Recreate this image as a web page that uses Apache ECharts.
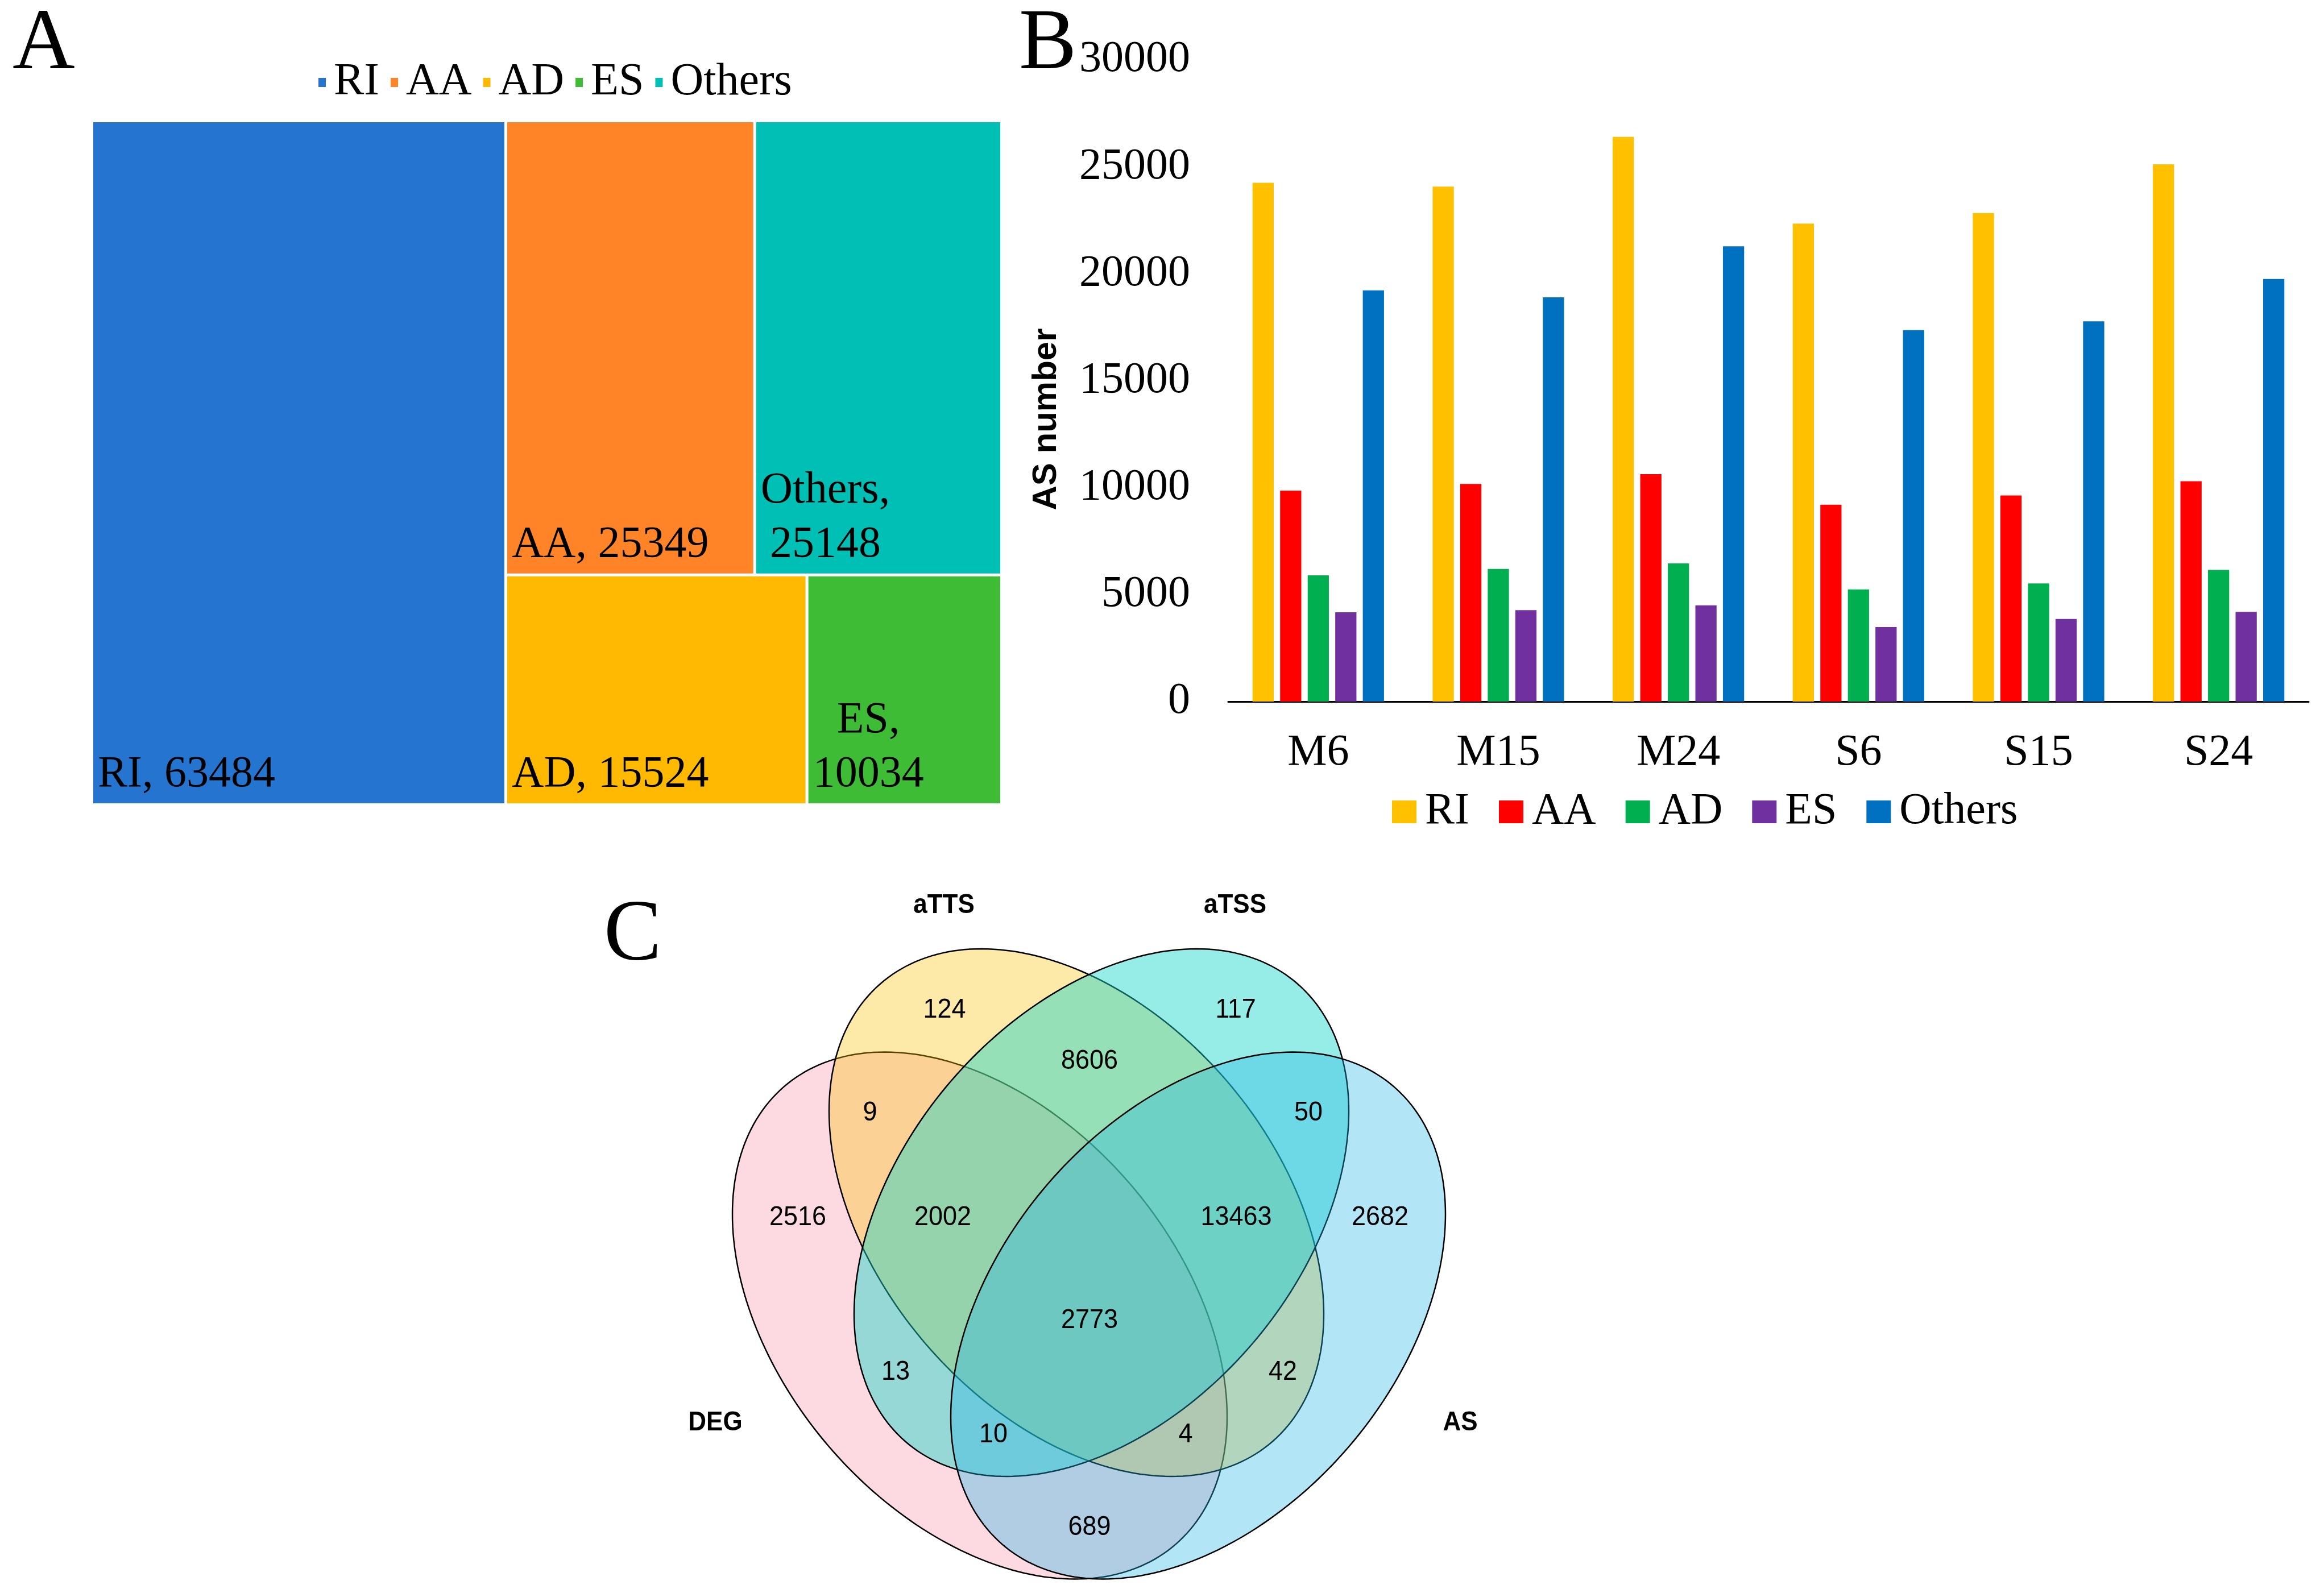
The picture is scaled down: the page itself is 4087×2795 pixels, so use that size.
<!DOCTYPE html>
<html><head><meta charset="utf-8">
<script src="https://cdn.jsdelivr.net/npm/echarts@6/dist/echarts.min.js"></script>
<style>html,body{margin:0;padding:0;background:#fff;}#c{width:4087px;height:2795px;}</style>
</head><body><div id="c"></div>
<script>
// ---------- Panel A: treemap of AS event types ----------
const asTypes = ['RI', 'AA', 'AD', 'ES', 'Others'];
const asTotals = [63484, 25349, 15524, 10034, 25148];
const treemapColors = ['#2574D0', '#FF8427', '#FFB900', '#3EBC35', '#00C0B5'];
const wrapLabelTypes = ['Others', 'ES'];

// ---------- Panel B: AS number per sample ----------
const samples = ['M6', 'M15', 'M24', 'S6', 'S15', 'S24'];
const riCounts = [24250, 24070, 26390, 22340, 22830, 25110];
const aaCounts = [9860, 10170, 10630, 9200, 9630, 10300];
const adCounts = [5900, 6200, 6460, 5240, 5520, 6150];
const esCounts = [4170, 4270, 4500, 3480, 3860, 4190];
const othersCounts = [19220, 18890, 21280, 17360, 17770, 19750];
const barColors = ['#FFC000', '#FF0000', '#00B050', '#7030A0', '#0070C0'];

// ---------- Panel C: Venn diagram ----------
const vennSets = ['DEG', 'aTTS', 'aTSS', 'AS'];
const vennRegions = ['DEG', 'aTTS', 'aTSS', 'AS', 'DEG&aTTS', 'aTTS&aTSS', 'aTSS&AS',
  'DEG&aTTS&aTSS', 'aTTS&aTSS&AS', 'DEG&aTTS&aTSS&AS', 'DEG&aTSS', 'aTTS&AS',
  'DEG&aTSS&AS', 'DEG&aTTS&AS', 'DEG&AS'];
const vennCounts = [2516, 124, 117, 2682, 9, 8606, 50, 2002, 13463, 2773, 13, 42, 10, 4, 689];

// layout of the Venn diagram (abstract layout units)
const vennShape = {
  DEG:  {cx: -1.92, cy: 0.00, ex: 4.35, ey: 4.635, rho: -0.3845, fill: 'rgba(249,149,172,0.35)'},
  aTTS: {cx: -0.22, cy: 1.81, ex: 4.35, ey: 4.64,  rho: -0.3845, fill: 'rgba(249,192,6,0.35)'},
  aTSS: {cx:  0.22, cy: 1.81, ex: 4.35, ey: 4.64,  rho:  0.3845, fill: 'rgba(22,213,199,0.45)'},
  AS:   {cx:  1.92, cy: 0.00, ex: 4.35, ey: 4.635, rho:  0.3845, fill: 'rgba(35,181,229,0.35)'}
};
const vennSetLabelPos = {DEG: [-6.57, -1.89], aTTS: [-2.55, 7.21], aTSS: [2.57, 7.21], AS: [6.53, -1.89]};
const vennRegionPos = {
  'DEG': [-5.12, 1.72], 'aTTS': [-2.54, 5.37], 'aTSS': [2.58, 5.37], 'AS': [5.12, 1.72],
  'DEG&aTTS': [-3.85, 3.56], 'aTTS&aTSS': [0.01, 4.47], 'aTSS&AS': [3.86, 3.56],
  'DEG&aTTS&aTSS': [-2.57, 1.72], 'aTTS&aTSS&AS': [2.59, 1.72], 'DEG&aTTS&aTSS&AS': [0.01, -0.09],
  'DEG&aTSS': [-3.40, -1.00], 'aTTS&AS': [3.41, -1.00], 'DEG&aTSS&AS': [-1.68, -2.10],
  'DEG&aTTS&AS': [1.70, -2.10], 'DEG&AS': [0.01, -3.73]
};

const serif = '"Liberation Serif", "Times New Roman", serif';
const sans = '"Liberation Sans", Arial, sans-serif';
const treemapBox = {left: 164, top: 215, width: 1595, height: 1198};

const chart = echarts.init(document.getElementById('c'), null, {renderer: 'canvas'});
const barSeriesData = [riCounts, aaCounts, adCounts, esCounts, othersCounts];

const option = {
  backgroundColor: '#ffffff',
  animation: false,
  graphic: [
    {type: 'text', id: 'letterA', x: 22, y: 80, style: {text: 'A', font: '152px ' + serif, fill: '#000', verticalAlign: 'middle'}},
    {type: 'text', id: 'letterB', x: 1792, y: 80, style: {text: 'B', font: '152px ' + serif, fill: '#000', verticalAlign: 'middle'}},
    {type: 'text', id: 'letterC', x: 1062, y: 1648, style: {text: 'C', font: '152px ' + serif, fill: '#000', verticalAlign: 'middle'}}
  ],
  legend: [
    {
      left: 555, top: 100, icon: 'rect', itemWidth: 13, itemHeight: 16, itemGap: 20,
      selectedMode: false,
      textStyle: {fontFamily: serif, fontSize: 80, color: '#000', padding: [0, 0, 0, 9]},
      data: asTypes.map((n, i) => ({name: n, itemStyle: {color: treemapColors[i]}}))
    },
    {
      left: 2443, top: 1384, icon: 'rect', itemWidth: 43, itemHeight: 40, itemGap: 52,
      selectedMode: false,
      textStyle: {fontFamily: serif, fontSize: 78, color: '#000', padding: [0, 0, 0, 10]},
      data: asTypes.map((n, i) => ({name: n, itemStyle: {color: barColors[i]}}))
    }
  ],
  grid: [
    {left: 2160, top: 105, width: 1900, height: 1129, containLabel: false},
    {left: 1062, top: 1497, width: 1706, height: 1271, containLabel: false}
  ],
  xAxis: [
    {
      type: 'category', gridIndex: 0, data: samples, boundaryGap: true,
      axisLine: {show: true, lineStyle: {color: '#000', width: 3}},
      axisTick: {show: false},
      axisLabel: {fontFamily: serif, fontSize: 78, color: '#000', margin: 52},
      splitLine: {show: false}
    },
    {type: 'value', gridIndex: 1, min: -8.53, max: 8.53, show: false}
  ],
  yAxis: [
    {
      type: 'value', gridIndex: 0, min: 0, max: 30000, interval: 5000,
      name: 'AS number', nameLocation: 'middle', nameRotate: 90, nameGap: 290,
      nameTextStyle: {fontFamily: sans, fontWeight: 'bold', fontSize: 60, color: '#000', padding: [0, 136, 0, 0]},
      axisLine: {show: false}, axisTick: {show: false},
      axisLabel: {fontFamily: serif, fontSize: 78, color: '#000', margin: 67, formatter: v => String(v)},
      splitLine: {show: false}
    },
    {type: 'value', gridIndex: 1, min: -4.54, max: 8.17, show: false}
  ],
  series: [
    {
      type: 'treemap', left: treemapBox.left, top: treemapBox.top, width: treemapBox.width, height: treemapBox.height,
      roam: false, nodeClick: false, silent: true, squareRatio: 1, sort: 'desc',
      breadcrumb: {show: false},
      levels: [{itemStyle: {borderWidth: 0, gapWidth: 5}}],
      itemStyle: {borderWidth: 0},
      label: {show: false},
      data: asTypes.map((n, i) => ({name: n, value: asTotals[i], itemStyle: {color: treemapColors[i]}}))
    },
    ...asTypes.map((n, i) => ({
      type: 'bar', name: n, xAxisIndex: 0, yAxisIndex: 0,
      data: barSeriesData[i], barGap: '30%', barCategoryGap: '27%',
      itemStyle: {color: barColors[i]}, silent: true
    })),
    {
      type: 'custom', name: 'venn', xAxisIndex: 1, yAxisIndex: 1, clip: false, silent: true,
      data: vennSets.map((s, i) => [i]),
      renderItem: (params, api) => {
        const g = vennShape[vennSets[params.dataIndex]];
        const phi = Math.acos(g.rho);
        const pts = [];
        for (let k = 0; k < 240; k++) {
          const t = k / 240 * 2 * Math.PI;
          pts.push(api.coord([g.cx + g.ex * Math.cos(t), g.cy + g.ey * Math.cos(t - phi)]));
        }
        return {type: 'polygon', shape: {points: pts}, style: {fill: g.fill, stroke: '#000', lineWidth: 2.5}};
      }
    },
    {
      type: 'custom', name: 'vennCounts', xAxisIndex: 1, yAxisIndex: 1, clip: false, silent: true, z: 5,
      data: vennRegions.map((r, i) => [vennRegionPos[r][0], vennRegionPos[r][1], vennCounts[i]]),
      renderItem: (params, api) => {
        const p = api.coord([api.value(0), api.value(1)]);
        return {type: 'text', x: p[0], y: p[1], scaleY: 1.08, style: {text: String(api.value(2)), font: '45px ' + sans, fill: '#000', align: 'center', verticalAlign: 'middle'}};
      }
    },
    {
      type: 'custom', name: 'vennSetNames', xAxisIndex: 1, yAxisIndex: 1, clip: false, silent: true, z: 5,
      data: vennSets.map(s => [vennSetLabelPos[s][0], vennSetLabelPos[s][1]]),
      renderItem: (params, api) => {
        const p = api.coord([api.value(0), api.value(1)]);
        return {type: 'text', x: p[0], y: p[1], scaleY: 1.08, style: {text: vennSets[params.dataIndex], font: 'bold 44px ' + sans, fill: '#000', align: 'center', verticalAlign: 'middle'}};
      }
    }
  ]
};
chart.setOption(option);

// Treemap labels: placed at the bottom-left of each rectangle laid out by ECharts
(function addTreemapLabels() {
  let nodes = [], base = {x: treemapBox.left, y: treemapBox.top};
  try {
    const sm = chart.getModel().getSeriesByIndex(0);
    if (sm.layoutInfo) base = {x: sm.layoutInfo.x, y: sm.layoutInfo.y};
    nodes = sm.getData().tree.root.children;
  } catch (e) { nodes = []; }
  const texts = nodes.map((node, i) => {
    const l = node.getLayout();
    const wrap = wrapLabelTypes.indexOf(node.name) >= 0;
    const txt = '{c|' + node.name + ',' + (wrap ? '}\n{c|' : ' ') + node.getValue() + '}';
    return {
      type: 'text', id: 'tmLabel' + i, z: 10, silent: true,
      x: base.x + l.x + 8, y: base.y + l.y + l.height - 3,
      style: {
        text: txt, align: 'left', verticalAlign: 'bottom',
        rich: {c: {fontFamily: serif, fontSize: 78, lineHeight: 95, fill: '#000', align: 'center'}}
      }
    };
  });
  chart.setOption({graphic: texts});
})();
</script></body></html>
